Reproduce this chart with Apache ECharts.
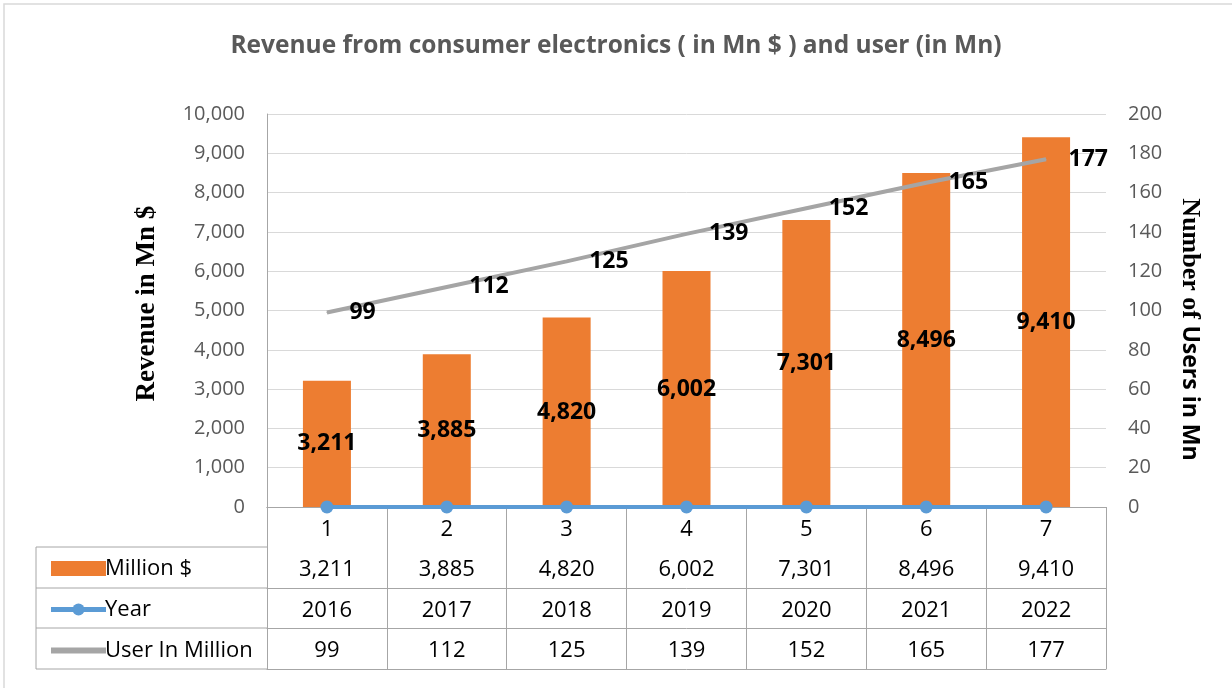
<!DOCTYPE html>
<html>
<head>
<meta charset="utf-8">
<script src="https://cdn.jsdelivr.net/npm/echarts@6/dist/echarts.min.js"></script>
<style>
  html, body { margin: 0; padding: 0; background: #fff; }
  #chart { width: 1232px; height: 688px; }
</style>
</head>
<body>
<div id="chart"></div>
<script>
// Revenue (bars, left axis) + users (line, right axis), Excel-style data table below.
const categories = ['1', '2', '3', '4', '5', '6', '7'];
const revenue = [3211, 3885, 4820, 6002, 7301, 8496, 9410];
const years = [2016, 2017, 2018, 2019, 2020, 2021, 2022];
const yearPlotted = [0, 0, 0, 0, 0, 0, 0];   // the Year line sits on the baseline in the picture
const users = [99, 112, 125, 139, 152, 165, 177];

const fmt = v => v.toLocaleString('en-US');
const SANS = '"Open Sans", "Noto Sans", sans-serif';
const SERIF = '"Liberation Serif", serif';
const TABLE_LINE = '#a6a6a6';
const TABLE_FONT = 22;

const chart = echarts.init(document.getElementById('chart'), null, { renderer: 'canvas' });

// extra x axes draw the table rows; ticks of the first one draw column lines
function rowAxis(offset, labels) {
  return {
    type: 'category', position: 'bottom', offset: offset, data: labels || categories,
    axisLine: { show: true, lineStyle: { color: TABLE_LINE, width: 1 } },
    axisTick: { show: false },
    axisLabel: { show: !!labels, color: '#000', fontFamily: SANS, fontSize: TABLE_FONT, margin: 12 },
  };
}

const option = {
  backgroundColor: '#fff',
  animation: false,
  title: {
    text: 'Revenue from consumer electronics ( in Mn $ ) and user (in Mn)',
    left: 'center', top: 29,
    textStyle: { color: '#595959', fontFamily: SANS, fontSize: 24.5, fontWeight: 'bold' },
  },
  grid: { left: 267, right: 126, top: 114, bottom: 181 },
  legend: {
    orient: 'vertical', left: 43, top: 551, itemGap: 16,
    itemWidth: 55, itemHeight: 15,
    textStyle: { color: '#000', fontFamily: SANS, fontSize: TABLE_FONT, lineHeight: 25, padding: [0, 0, 0, -6] },
    data: [
      { name: 'Million $', icon: 'rect' },
      { name: 'Year', lineStyle: { width: 5 } },
      { name: 'User In Million', lineStyle: { width: 6 }, itemStyle: { opacity: 0 } },
    ],
  },
  xAxis: [
    {
      type: 'category', data: categories, position: 'bottom',
      axisLine: { show: true, lineStyle: { color: TABLE_LINE, width: 1 } },
      axisTick: { show: true, length: 162, lineStyle: { color: TABLE_LINE } },
      axisLabel: { color: '#000', fontFamily: SANS, fontSize: TABLE_FONT, margin: 12 },
    },
    rowAxis(40, revenue.map(fmt)),
    rowAxis(81, years.map(String)),
    rowAxis(121, users.map(String)),
    rowAxis(162),
  ],
  yAxis: [
    {
      type: 'value', min: 0, max: 10000, interval: 1000,
      name: 'Revenue in Mn $', nameLocation: 'middle', nameGap: 106,
      nameTextStyle: { color: '#000', fontFamily: SERIF, fontSize: 27, fontWeight: 'bold', padding: [0, 0, 0, 14] },
      axisLine: { show: true, lineStyle: { color: TABLE_LINE } },
      axisTick: { show: false },
      axisLabel: { color: '#595959', fontFamily: SANS, fontSize: 20, margin: 22, formatter: v => fmt(v) },
      splitLine: { lineStyle: { color: '#d9d9d9', width: 1 } },
    },
    {
      type: 'value', min: 0, max: 200, interval: 20, position: 'right',
      name: '{a|Number of }{b|Users in Mn}', nameLocation: 'middle', nameGap: 71, nameRotate: -90,
      nameTextStyle: {
        padding: [0, 0, 0, 38],
        rich: {
          a: { color: '#000', fontFamily: SERIF, fontSize: 26, fontWeight: 'bold' },
          b: { color: '#000', fontFamily: SANS, fontSize: 23, fontWeight: 'bold' },
        },
      },
      axisLine: { show: false },
      axisTick: { show: false },
      axisLabel: { color: '#595959', fontFamily: SANS, fontSize: 20, margin: 22 },
      splitLine: { show: false },
    },
  ],
  series: [
    {
      name: 'Million $', type: 'bar', data: revenue, barWidth: 48,
      itemStyle: { color: '#ed7d31' },
      label: {
        show: true, position: 'inside', color: '#000', fontFamily: SANS, fontSize: 23, fontWeight: 'bold',
        formatter: p => fmt(p.value),
      },
      z: 2,
    },
    {
      name: 'Year', type: 'line', data: yearPlotted,
      symbol: 'circle', symbolSize: 13,
      lineStyle: { color: '#5b9bd5', width: 4 },
      itemStyle: { color: '#5b9bd5' },
      z: 4,
    },
    {
      name: 'User In Million', type: 'line', data: users, yAxisIndex: 1,
      symbol: 'circle', symbolSize: 1,
      lineStyle: { color: '#a5a5a5', width: 4 },
      itemStyle: { color: '#a5a5a5' },
      label: {
        show: true, position: 'right', distance: 22, color: '#000', fontFamily: SANS, fontSize: 23, fontWeight: 'bold',
      },
      z: 3,
    },
  ],
  graphic: [
    // chart outline (only top and left edges fall inside the frame)
    { type: 'rect', shape: { x: 4, y: 4, width: 1400, height: 900 }, style: { fill: null, stroke: '#d9d9d9', lineWidth: 1.5 }, silent: true, z: -1 },
    // left part of the data table (legend column)
    { type: 'line', shape: { x1: 36, y1: 547, x2: 267, y2: 547 }, style: { stroke: TABLE_LINE, lineWidth: 1 } },
    { type: 'line', shape: { x1: 36, y1: 588, x2: 267, y2: 588 }, style: { stroke: TABLE_LINE, lineWidth: 1 } },
    { type: 'line', shape: { x1: 36, y1: 628, x2: 267, y2: 628 }, style: { stroke: TABLE_LINE, lineWidth: 1 } },
    { type: 'line', shape: { x1: 36, y1: 669, x2: 267, y2: 669 }, style: { stroke: TABLE_LINE, lineWidth: 1 } },
    { type: 'line', shape: { x1: 36, y1: 547, x2: 36, y2: 669 }, style: { stroke: TABLE_LINE, lineWidth: 1 } },
  ],
};

chart.setOption(option);
window.addEventListener('resize', () => chart.resize());
</script>
</body>
</html>
